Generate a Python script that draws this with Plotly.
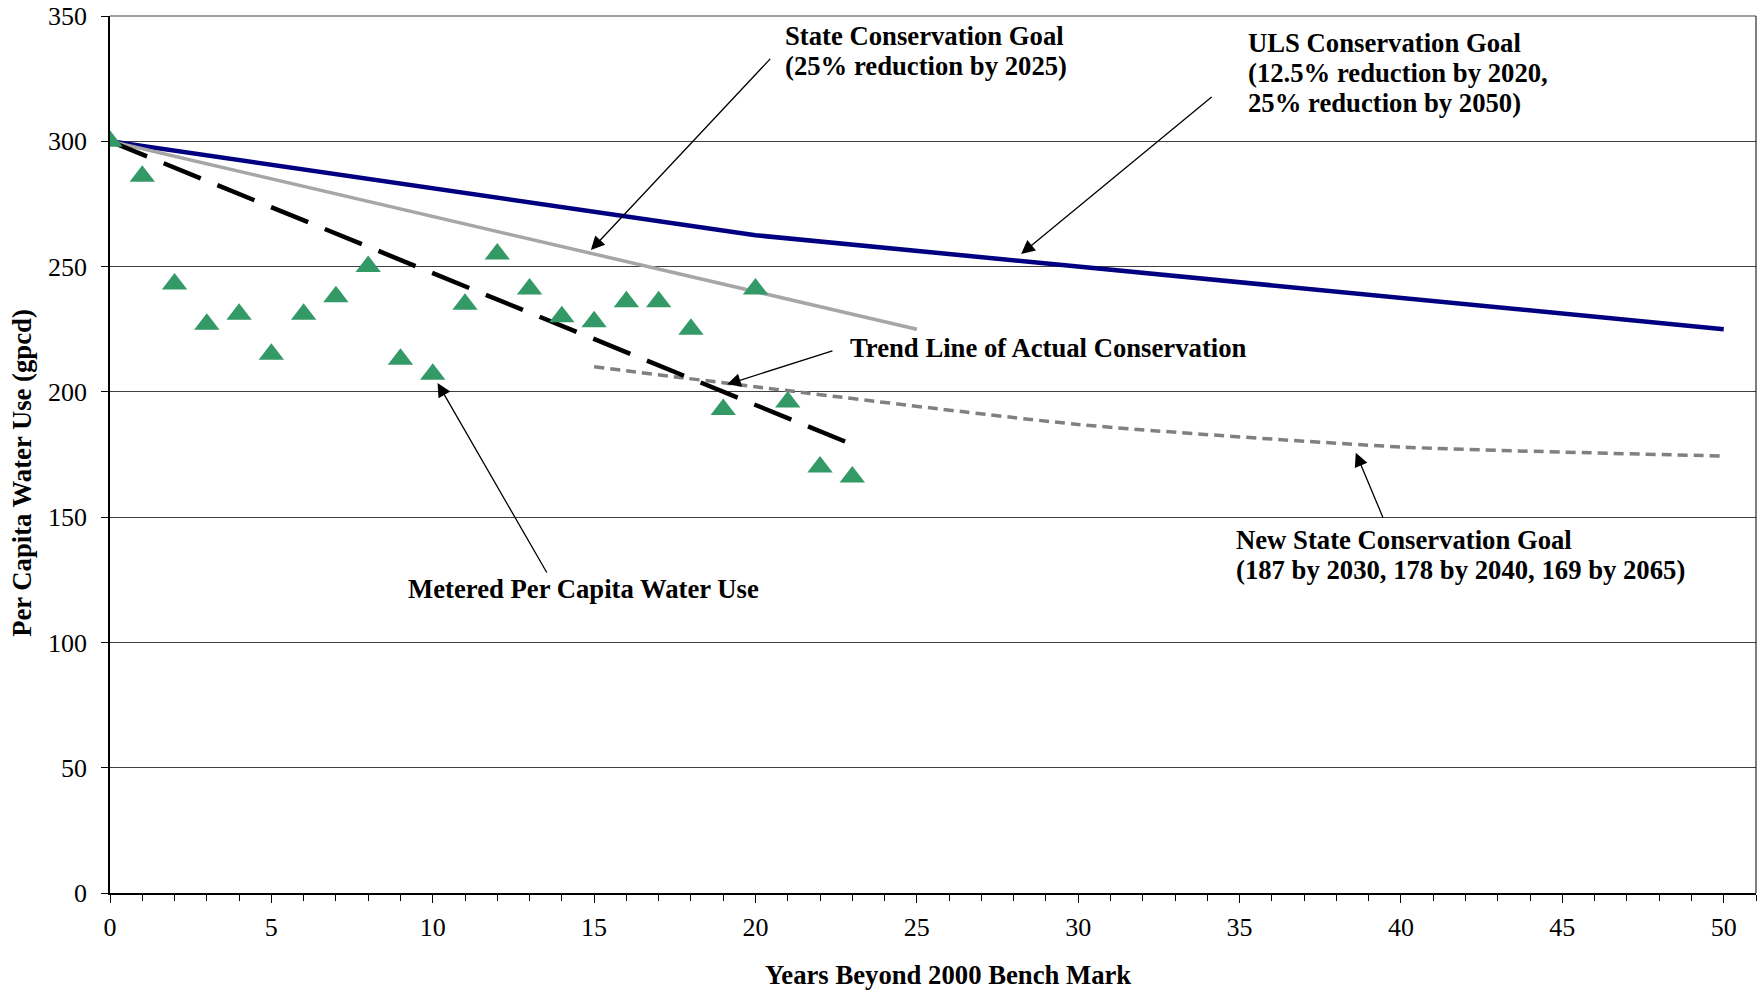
import plotly.graph_objects as go

# ---- Data ----
metered_years = list(range(0, 24))
metered_gpcd = [300, 286, 243, 227, 231, 215, 231, 238, 250, 213, 207, 235,
                255, 241, 230, 228, 236, 236, 225, 193, 241, 196, 170, 166]

trend_years = [0, 23]
trend_gpcd = [300, 179]

state_goal_years = [0, 25]
state_goal_gpcd = [300, 225]

uls_goal_years = [0, 20, 50]
uls_goal_gpcd = [300, 262.5, 225]

new_state_years = [15, 30, 40, 50]
new_state_gpcd = [210, 187, 178, 174.4]

x_ticks = [0, 5, 10, 15, 20, 25, 30, 35, 40, 45, 50]
y_ticks = [0, 50, 100, 150, 200, 250, 300, 350]

x_title = "Years Beyond 2000 Bench Mark"
y_title = "Per Capita Water Use (gpcd)"

FONT = "Liberation Serif, Times New Roman, serif"
LBL = 26.7

fig = go.Figure()

fig.add_trace(go.Scatter(x=uls_goal_years, y=uls_goal_gpcd, mode="lines",
                         line=dict(color="#000080", width=4.5),
                         name="ULS Conservation Goal"))
fig.add_trace(go.Scatter(x=state_goal_years, y=state_goal_gpcd, mode="lines",
                         line=dict(color="#a6a6a6", width=3.5),
                         name="State Conservation Goal"))
fig.add_trace(go.Scatter(x=new_state_years, y=new_state_gpcd, mode="lines",
                         line=dict(color="#808080", width=3.5, dash="10px,6px", shape="spline", smoothing=0.6),
                         name="New State Conservation Goal"))
fig.add_trace(go.Scatter(x=trend_years, y=trend_gpcd, mode="lines",
                         line=dict(color="#000000", width=4.5, dash="40px,18px"),
                         name="Trend Line"))
fig.add_trace(go.Scatter(x=metered_years, y=metered_gpcd, mode="markers",
                         marker=dict(symbol="triangle-up", size=22, color="#339966",
                                     line=dict(width=0)),
                         name="Metered Per Capita Water Use"))

tfont = dict(family=FONT, size=LBL, color="black")

# Text labels: one annotation per line (text, x-left, y-center)
lines = [
    ("State Conservation Goal", 20.89, 342.0),
    ("(25% reduction by 2025)", 20.89, 330.2),
    ("ULS Conservation Goal", 35.22, 339.3),
    ("(12.5% reduction by 2020,", 35.22, 327.2),
    ("25% reduction by 2050)", 35.22, 315.1),
    ("Trend Line of Actual Conservation", 22.9, 217.5),
    ("Metered Per Capita Water Use", 9.19, 121.5),
    ("New State Conservation Goal", 34.86, 140.9),
    ("(187 by 2030, 178 by 2040, 169 by 2065)", 34.86, 129.1),
]
annotations = []
for t, x, y in lines:
    annotations.append(dict(text="<b>" + t + "</b>", x=x, y=y, xref="x", yref="y",
                            xanchor="left", yanchor="middle", align="left",
                            showarrow=False, font=tfont, borderpad=0))

# Axis titles
annotations.append(dict(text="<b>" + x_title + "</b>", x=0.509, y=-0.0935, xref="paper", yref="paper",
                        xanchor="center", yanchor="middle", showarrow=False, font=tfont))
annotations.append(dict(text="<b>" + y_title + "</b>", x=-0.0535, y=0.479, xref="paper", yref="paper",
                        xanchor="center", yanchor="middle", textangle=-90, showarrow=False, font=tfont))

# Arrows (tail -> tip)
arrows = [
    ((20.5, 333.5), (14.9, 256.6)),
    ((34.18, 318.2), (28.23, 255.0)),
    ((22.43, 216.5), (19.12, 203.0)),
    ((13.56, 127.3), (10.15, 203.5)),
    ((39.46, 149.3), (38.6, 175.7)),
]
for (tx, ty), (hx, hy) in arrows:
    annotations.append(dict(text="", x=hx, y=hy, ax=tx, ay=ty, xref="x", yref="y",
                            axref="x", ayref="y", showarrow=True, arrowhead=2,
                            arrowsize=2.1, arrowwidth=1.3, arrowcolor="black", standoff=0))

fig.update_layout(
    width=1761, height=993,
    margin=dict(l=110, r=5, t=16, b=100, autoexpand=False),
    paper_bgcolor="white", plot_bgcolor="white",
    showlegend=False,
    font=dict(family=FONT, color="black"),
    annotations=annotations,
    xaxis=dict(range=[0, 51], tickvals=x_ticks, ticktext=[str(v) for v in x_ticks],
               ticks="outside", ticklen=8, tickwidth=1, tickcolor="black",
               minor=dict(dtick=1, ticks="outside", ticklen=6, tickcolor="black", showgrid=False),
               showgrid=False, zeroline=False, showline=True, linecolor="black", linewidth=1.5,
               mirror=False, tickfont=dict(family=FONT, size=26), ticklabelstandoff=2,
               automargin=False),
    yaxis=dict(range=[0, 350], tickvals=y_ticks, ticks="outside", ticklen=7, tickcolor="black",
               showgrid=True, gridcolor="#404040", gridwidth=1, zeroline=False,
               showline=True, linecolor="black", linewidth=1.5,
               tickfont=dict(family=FONT, size=26), ticklabelstandoff=9,
               ticklabeloverflow="allow", automargin=False),
)

# top and right border lines of plot area
fig.add_shape(type="line", xref="paper", yref="paper", x0=1, x1=1, y0=0, y1=1,
              line=dict(color="black", width=1))
fig.add_shape(type="line", xref="paper", yref="paper", x0=0, x1=1, y0=1, y1=1,
              line=dict(color="#404040", width=1))

fig.write_html("out.html",
               config={"displayModeBar": False},
               post_script="document.body.style.margin='0';document.body.style.overflow='hidden';")
